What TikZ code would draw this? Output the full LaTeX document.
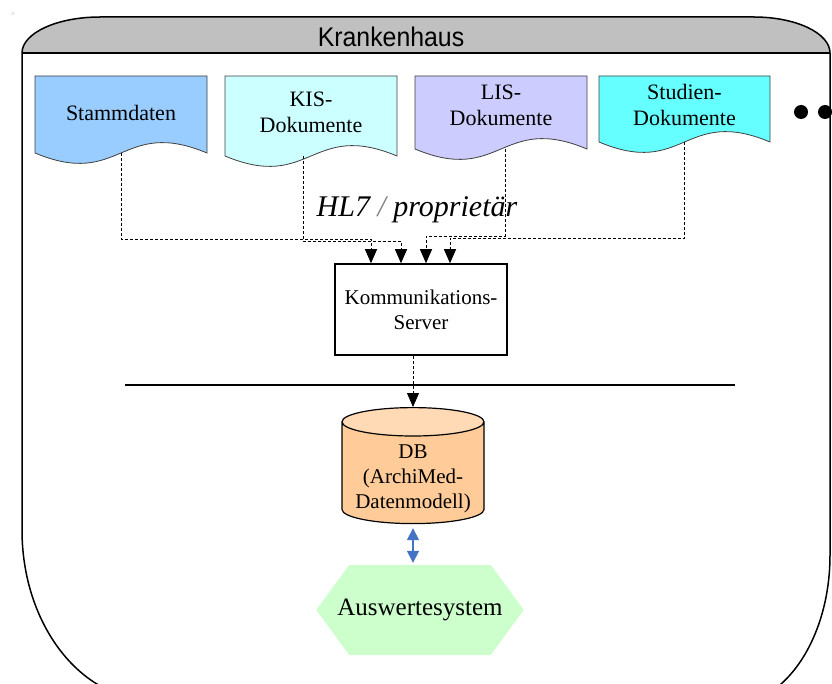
\documentclass[tikz,border=0pt]{standalone}
\usepackage{fontspec}
\setmainfont{Liberation Serif}
\newfontfamily\arialfont{Liberation Sans}
\usetikzlibrary{arrows.meta,shapes.geometric,backgrounds}

\definecolor{headgray}{HTML}{C0C0C0}
\definecolor{stammblue}{HTML}{99CCFF}
\definecolor{kiscyan}{HTML}{CCFFFF}
\definecolor{lisviolet}{HTML}{CCCCFF}
\definecolor{studcyan}{HTML}{66FFFF}
\definecolor{dborange}{HTML}{FFCC99}
\definecolor{dbtop}{HTML}{FFDAB5}
\definecolor{evalgreen}{HTML}{CCFFCC}
\definecolor{linkblue}{HTML}{4472C4}

% document shape: name, left, right, top, bottom, colour, text, text y
\newcommand{\Dok}[8]{%
  \draw[dokline, fill=#6] (#2,#4) -- (#3,#4) -- (#3,#5)
    .. controls ({(#2+#3)/2},{#5-36}) and ({(#2+#3)/2},{#5+36}) .. (#2,#5) -- cycle;
  \coordinate (#1-s) at ({(#2+#3)/2},#5);
  \node[doktext] (#1) at ({(#2+#3)/2},#8) {#7};
}

\begin{document}
\begin{tikzpicture}[x=1pt, y=-1pt,
  frame/.style={line width=1.5pt},
  dokline/.style={draw=black!75, line width=0.8pt},
  doktext/.style={align=center, inner sep=0pt, font=\fontsize{22}{26}\selectfont},
  serverbox/.style={draw, line width=1.5pt, minimum width=172pt, minimum height=91pt,
    align=center, inner sep=0pt, font=\fontsize{21}{25}\selectfont},
  link/.style={line width=0.8pt, dash pattern=on 3pt off 2pt, -{Triangle[length=14pt,width=12pt]}},
  dbnode/.style={cylinder, shape border rotate=90, aspect=0.2, draw, line width=1.2pt,
    minimum width=142pt, minimum height=116pt, cylinder uses custom fill,
    cylinder body fill=dborange, cylinder end fill=dbtop, inner sep=0pt},
  dbtext/.style={align=center, inner sep=0pt, font=\fontsize{21}{25}\selectfont},
  evalnode/.style={minimum width=207pt, minimum height=90pt, inner sep=0pt,
    font=\fontsize{25}{28}\selectfont},
  dbarrow/.style={linkblue, line width=1.5pt, {Triangle[length=12pt,width=12pt]}-{Triangle[length=12pt,width=12pt]}}]

  \useasboundingbox (0,0) rectangle (832,684);

  % hospital frame
  \fill[headgray] (22,53) arc[start angle=180, end angle=270, x radius=78, y radius=36]
    -- (754,17) arc[start angle=270, end angle=360, x radius=76, y radius=36] -- cycle;
  \draw[frame] (22,53) arc[start angle=180, end angle=270, x radius=78, y radius=36]
    -- (754,17) arc[start angle=270, end angle=360, x radius=76, y radius=36]
    -- (830,555) arc[start angle=0, end angle=90, x radius=100, y radius=150]
    -- (152,700) arc[start angle=90, end angle=180, x radius=130, y radius=170] -- cycle;
  \draw[frame] (22,53) -- (830,53);
  \node[font=\arialfont\fontsize{27}{30}\selectfont] (title) at (391,37) {\scalebox{0.92}[1]{Krankenhaus}};
  \node[font=\fontsize{5}{5}\selectfont, text=gray] (mark) at (13,14) {//};

  \Dok{stamm}{35}{207}{76}{153}{stammblue}{Stammdaten}{113}
  \Dok{kis}{225}{397}{76}{156}{kiscyan}{KIS-\\Dokumente}{112}
  \Dok{lis}{415}{587}{76}{149}{lisviolet}{LIS-\\Dokumente}{105}
  \Dok{stud}{599}{770}{76}{142}{studcyan}{Studien-\\Dokumente}{105}

  \fill (801,112) circle[radius=7];
  \fill (825,112) circle[radius=7];

  \node[font=\fontsize{30}{33}\selectfont\itshape] (hl7) at (417,210) {HL7 \textcolor{gray}{/} proprietär};

  \node[serverbox] (server) at (421,309.5) {Kommunikations-\\Server};
  \coordinate (in1) at ([xshift=-50pt]server.north);
  \coordinate (in2) at ([xshift=-20pt]server.north);
  \coordinate (in3) at ([xshift=5pt]server.north);
  \coordinate (in4) at ([xshift=29pt]server.north);

  \draw[link] (stamm-s) -- (stamm-s |- 0,239) -| (in1);
  \draw[link] ([xshift=-8pt]kis-s) -- ([xshift=-8pt]kis-s |- 0,241) -| (in2);
  \draw[link] ([xshift=4pt]lis-s) -- ([xshift=4pt]lis-s |- 0,236) -| (in3);
  \draw[link] (stud-s) -- (stud-s |- 0,238) -| (in4);

  \draw[frame] (125,385) -- (735,385);

  \node[dbnode] (db) at (413,473) {\rule{142pt}{0pt}};
  \node[dbtext] (dbt) at (413,479) {DB\\(ArchiMed-\\Datenmodell)};
  \draw[link] (server.south -| db.north) -- (db.north);

  \node[evalnode] (eval) at (420,610) {Auswertesystem};
  \begin{scope}[on background layer]
    \fill[evalgreen] (eval.west) -- ([xshift=33pt]eval.north west) -- ([xshift=-33pt]eval.north east)
      -- (eval.east) -- ([xshift=-33pt]eval.south east) -- ([xshift=33pt]eval.south west) -- cycle;
  \end{scope}
  \draw[dbarrow, shorten <=4pt, shorten >=2pt] (db.south) -- (db.south |- eval.north);

\end{tikzpicture}
\end{document}
